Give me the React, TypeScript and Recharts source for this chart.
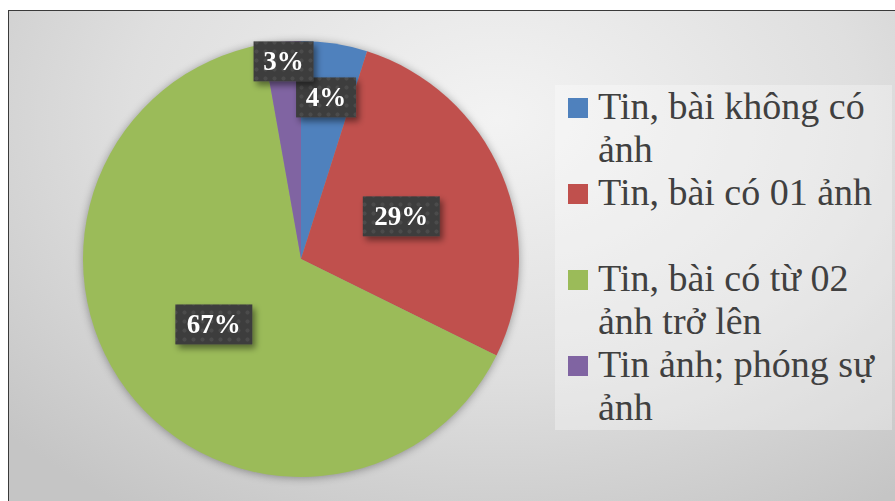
import { PieChart, Pie, Cell, Legend } from "recharts";

// Anteile je Kategorie, im Uhrzeigersinn ab 12 Uhr
const categories = [
  "Tin, bài không có ảnh",
  "Tin, bài có 01 ảnh",
  "Tin, bài có từ 02 ảnh trở lên",
  "Tin ảnh; phóng sự ảnh",
];
const legendRows = [
  ["Tin, bài không có", "ảnh"],
  ["Tin, bài có 01 ảnh"],
  ["Tin, bài có từ 02", "ảnh trở lên"],
  ["Tin ảnh; phóng sự", "ảnh"],
];
const sliceValues = [4.9, 27.4, 64.9, 2.8];
const sliceLabels = ["4%", "29%", "67%", "3%"];
const sliceColors = ["#4f81bd", "#c0504d", "#9bbb59", "#8064a2"];

const data = categories.map((name, i) => ({ name, value: sliceValues[i] }));

// kleine Stücke: Label weiter nach außen schieben (wie Excel)
const LABEL_RADIUS = [0.75, 0.5, 0.5, 0.91];
const RAD = Math.PI / 180;

function renderLabel(props: any) {
  const { cx, cy, midAngle, outerRadius, index } = props;
  const r = outerRadius * LABEL_RADIUS[index];
  const x = cx + r * Math.cos(-midAngle * RAD);
  const y = cy + r * Math.sin(-midAngle * RAD);
  const text = sliceLabels[index];
  const w = text.length * 17 + 26;
  const h = 40;
  return (
    <g key={"lbl" + index} filter="url(#lblShadow)">
      <rect x={x - w / 2} y={y - h / 2} width={w} height={h} fill="#3e3e3e" />
      <rect x={x - w / 2} y={y - h / 2} width={w} height={h} fill="url(#dots)" />
      <text
        x={x}
        y={y + 9}
        textAnchor="middle"
        fill="#ffffff"
        fontFamily='"Liberation Serif", "DejaVu Serif", serif'
        fontWeight="bold"
        fontSize={27}
      >
        {text}
      </text>
    </g>
  );
}

// eigene Legende: Reihenfolge wie im Original, Zeilenumbrüche fest
function renderLegend() {
  return (
    <div
      style={{
        width: 337,
        height: 345,
        position: "relative",
        background: "rgba(255,255,255,0.3)",
        fontFamily: '"Liberation Serif", "DejaVu Serif", serif',
        fontSize: 38,
        lineHeight: "43px",
        color: "#404040",
      }}
    >
      {legendRows.map((lines, i) => (
        <div key={i} style={{ position: "absolute", top: i * 86, left: 0, width: 337 }}>
          <div
            style={{
              position: "absolute",
              left: 13,
              top: 13,
              width: 20,
              height: 20,
              background: sliceColors[i],
            }}
          />
          <div style={{ position: "absolute", left: 43, top: 0, whiteSpace: "nowrap" }}>
            {lines.map((l, j) => (
              <div key={j}>{l}</div>
            ))}
          </div>
        </div>
      ))}
    </div>
  );
}

export default function App() {
  return (
    <>
      <style>{`html, body { overflow: hidden; }
.pie-box .recharts-pie { filter: drop-shadow(0px 1px 4px rgba(0,0,0,0.35)); }`}</style>
      <div
        className="pie-box"
        style={{
          position: "absolute",
          left: 8,
          top: 10,
          width: 887,
          height: 491,
          boxSizing: "border-box",
          borderTop: "1px solid #3a3a3a",
          borderLeft: "1px solid #3a3a3a",
          background:
            "radial-gradient(ellipse 75% 95% at 55% 22%, #f3f3f3 0%, #dfdfdf 55%, #c5c5c5 100%)",
        }}
      >
        <PieChart width={886} height={490} margin={{ top: 0, right: 0, bottom: 0, left: 0 }}>
          <defs>
            <pattern id="dots" width="9" height="9" patternUnits="userSpaceOnUse">
              <circle cx="4.5" cy="4.5" r="2" fill="rgba(255,255,255,0.07)" />
            </pattern>
            <filter id="lblShadow" x="-30%" y="-30%" width="160%" height="160%">
              <feDropShadow dx="3" dy="4" stdDeviation="3" floodColor="#000" floodOpacity="0.45" />
            </filter>
          </defs>
          <Pie
            data={data}
            dataKey="value"
            nameKey="name"
            cx={292}
            cy={248}
            outerRadius={218}
            startAngle={90}
            endAngle={-270}
            stroke="none"
            label={renderLabel}
            labelLine={false}
            isAnimationActive={false}
          >
            {data.map((d, i) => (
              <Cell key={d.name} fill={sliceColors[i]} />
            ))}
          </Pie>
          <Legend
            layout="vertical"
            align="right"
            verticalAlign="top"
            content={renderLegend}
            wrapperStyle={{ left: 546, top: 74, width: 337, height: 345 }}
          />
        </PieChart>
      </div>
    </>
  );
}
